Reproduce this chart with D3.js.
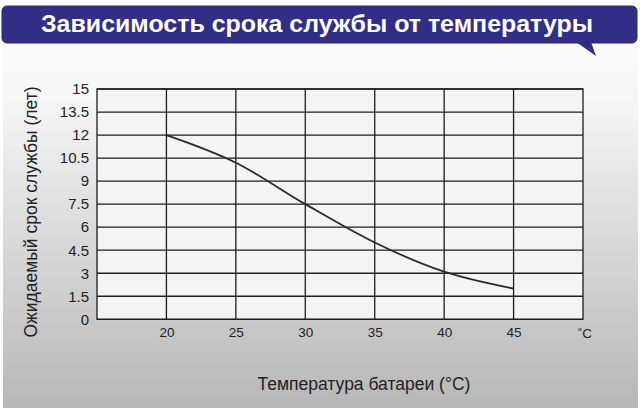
<!DOCTYPE html>
<html><head><meta charset="utf-8">
<script src="https://cdn.jsdelivr.net/npm/d3@7"></script>
<style>html,body{margin:0;padding:0;background:#fff;}svg{display:block;}</style>
</head><body>
<script>
const title = "Зависимость срока службы от температуры";
const yTitle = "Ожидаемый срок службы (лет)";
const xTitle = "Температура батареи (°C)";
const temps = [20, 25, 30, 35, 40, 45];
const life = [12, 10.2, 7.5, 5.0, 3.1, 2.0];
const xTicks = [20, 25, 30, 35, 40, 45];
const yTicks = [0, 1.5, 3, 4.5, 6, 7.5, 9, 10.5, 12, 13.5, 15];
const yTickLabels = ["0","1.5","3","4.5","6","7.5","9","10.5","12","13.5","15"];
const unitLabel = "˚C";

const W = 644, H = 414;
const svg = d3.select("body").append("svg").attr("width", W).attr("height", H);
const defs = svg.append("defs");
const g1 = defs.append("linearGradient").attr("id","bg").attr("x1",0).attr("y1",0).attr("x2",0).attr("y2",1);
g1.append("stop").attr("offset","0%").attr("stop-color","#fdfdfd");
g1.append("stop").attr("offset","20%").attr("stop-color","#f6f6f6");
g1.append("stop").attr("offset","100%").attr("stop-color","#b7b7b7");

svg.append("rect").attr("x",3).attr("y",20).attr("width",635).attr("height",388).attr("fill","url(#bg)");

// banner
svg.append("path").attr("d","M576,42 L596,56 L591,42 Z").attr("fill","#332e85");
svg.append("rect").attr("x",2).attr("y",6).attr("width",635).attr("height",37).attr("rx",5)
  .attr("fill","#332e85").attr("stroke","#2a2670").attr("stroke-width",1);
svg.append("text").attr("x",317).attr("y",32).attr("text-anchor","middle")
  .attr("font-family","Liberation Sans, Arial, sans-serif").attr("font-weight","bold")
  .attr("font-size",24.5).attr("fill","#fff").attr("textLength",552).attr("lengthAdjust","spacingAndGlyphs")
  .text(title);

const m = {l:97, r:583, t:89, b:319.3};
const x = d3.scaleLinear().domain([15,50]).range([m.l, m.r]);
const y = d3.scaleLinear().domain([0,15]).range([m.b, m.t]);

svg.append("rect").attr("x",m.l).attr("y",m.t).attr("width",m.r-m.l).attr("height",m.b-m.t).attr("fill","#f4f4f4");

const grid = svg.append("g").attr("stroke","#1e1e1e").attr("stroke-width",1.3);
grid.selectAll("line.h").data(yTicks).join("line").attr("class","h")
  .attr("x1",m.l).attr("x2",m.r).attr("y1",d=>y(d)).attr("y2",d=>y(d));
grid.selectAll("line.v").data(xTicks).join("line").attr("class","v")
  .attr("y1",m.t).attr("y2",m.b).attr("x1",d=>x(d)).attr("x2",d=>x(d));
svg.append("rect").attr("x",m.l).attr("y",m.t).attr("width",m.r-m.l).attr("height",m.b-m.t)
  .attr("fill","none").attr("stroke","#1e1e1e").attr("stroke-width",1.3);

const font = "Liberation Sans, Arial, sans-serif";
const yAxis = d3.axisLeft(y).tickValues(yTicks).tickFormat((d,i)=>yTickLabels[i]).tickSize(0).tickPadding(8);
const ya = svg.append("g").attr("transform",`translate(${m.l},0)`).call(yAxis);
ya.select(".domain").remove();
ya.selectAll("text").attr("font-family",font).attr("font-size",15).attr("fill","#222");

const xAxis = d3.axisBottom(x).tickValues(xTicks).tickFormat(d3.format("d")).tickSize(0).tickPadding(8);
const xa = svg.append("g").attr("transform",`translate(0,${m.b})`).call(xAxis);
xa.select(".domain").remove();
xa.selectAll("text").attr("font-family",font).attr("font-size",13.5).attr("fill","#222");

svg.append("text").attr("x",x(50)+2).attr("y",m.b+19).attr("text-anchor","middle")
  .attr("font-family",font).attr("font-size",13.5).attr("fill","#222").text(unitLabel);

svg.append("text").attr("transform",`translate(37,212) rotate(-90)`).attr("text-anchor","middle")
  .attr("font-family",font).attr("font-size",17.5).attr("fill","#222").text(yTitle);
svg.append("text").attr("x",364).attr("y",390).attr("text-anchor","middle")
  .attr("font-family",font).attr("font-size",17.5).attr("fill","#222").text(xTitle);

const line = d3.line().x(d=>x(d[0])).y(d=>y(d[1])).curve(d3.curveMonotoneX);
svg.append("path").datum(temps.map((t,i)=>[t, life[i]])).attr("d",line)
  .attr("fill","none").attr("stroke","#2a2a2a").attr("stroke-width",1.8);
</script>
</body></html>
